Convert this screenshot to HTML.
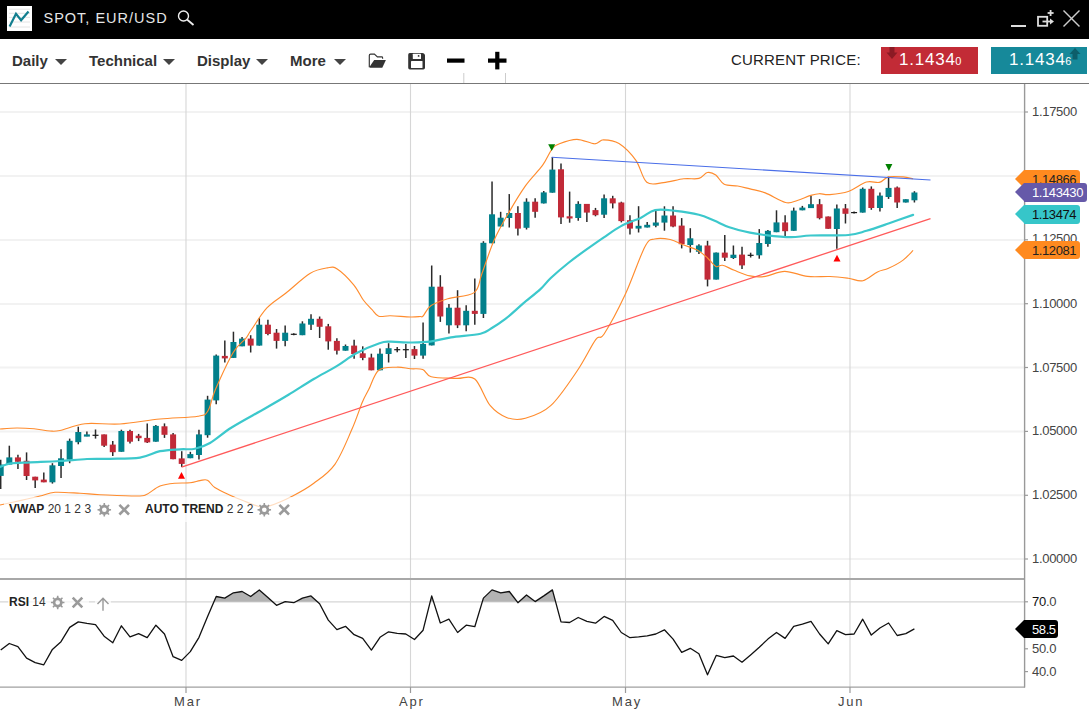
<!DOCTYPE html>
<html><head><meta charset="utf-8">
<style>
*{margin:0;padding:0;box-sizing:border-box}
html,body{width:1089px;height:712px;overflow:hidden;background:#fff;font-family:"Liberation Sans",sans-serif}
.abs{position:absolute}
#hdr{position:absolute;left:0;top:0;width:1089px;height:39px;background:#000}
#logo{position:absolute;left:7px;top:6px;width:25px;height:25px;background:#fff}
#title{position:absolute;left:43.5px;top:10px;color:#e6e6e6;font-size:14.5px;letter-spacing:1.0px;white-space:nowrap}
.menu{position:absolute;top:52px;font-size:15px;font-weight:bold;color:#333;white-space:nowrap}
.tri{position:absolute;top:59px;width:0;height:0;border-left:6px solid transparent;border-right:6px solid transparent;border-top:6.5px solid #444}
#sep{position:absolute;left:0;top:83px;width:1089px;height:1px;background:#777}
svg#chart{position:absolute;left:0;top:0}
.ax{position:absolute;left:1032px;font-size:13px;color:#444;letter-spacing:-0.3px;white-space:nowrap;line-height:16px}
.rs{letter-spacing:-0.3px}
.ax b{font-weight:normal;color:#111}
.tag{position:absolute;left:1024px;border-radius:0 3px 3px 0;font-size:13px;line-height:19px;padding-left:8px;letter-spacing:-0.4px;white-space:nowrap}
.tag i{position:absolute;left:-9px;top:0;width:0;height:0;border-style:solid;border-color:transparent;border-right-width:9px;border-left-width:0}
.lbl{position:absolute;font-size:12px;color:#333;white-space:nowrap;background:rgba(255,255,255,0.7);line-height:25px;height:25px}
.lbl b{color:#222}
.mon{position:absolute;top:694px;font-size:13px;letter-spacing:1.8px;color:#444;white-space:nowrap}
.price{position:absolute;top:47px;height:27px;color:#fff;font-size:17px;line-height:26px;letter-spacing:0.8px;white-space:nowrap}
</style></head><body>
<div id="hdr">
 <div id="logo"><svg width="25" height="25" viewBox="0 0 25 25">
  <g stroke="#ddd" stroke-width="0.8"><line x1="2" y1="3.2" x2="23" y2="3.2"/><line x1="2" y1="7.3" x2="23" y2="7.3"/><line x1="2" y1="11.4" x2="23" y2="11.4"/><line x1="2" y1="16" x2="23" y2="16"/><line x1="2" y1="21" x2="23" y2="21"/></g>
  <polyline points="2.6,20.6 9,7.8 14.1,14.2 21.5,5.5" fill="none" stroke="#137f8f" stroke-width="2.2"/>
 </svg></div>
 <div id="title">SPOT, EUR/USD</div>
 <svg class="abs" style="left:176px;top:9px" width="20" height="18" viewBox="0 0 20 18"><circle cx="7.5" cy="7" r="5" fill="none" stroke="#eee" stroke-width="1.4"/><line x1="11" y1="10.5" x2="17.5" y2="16" stroke="#eee" stroke-width="1.8"/></svg>
 <svg class="abs" style="left:1008px;top:8px" width="81" height="22" viewBox="0 0 81 22">
  <rect x="3" y="17" width="15" height="2" fill="#ddd"/>
  <rect x="30" y="8.8" width="9.2" height="9" fill="none" stroke="#ddd" stroke-width="1.8"/>
  <line x1="34.5" y1="13.5" x2="43" y2="13.5" stroke="#ddd" stroke-width="1.8"/><polygon points="42,10.5 46,13.5 42,16.5" fill="#ddd"/>
  <line x1="42.6" y1="2" x2="42.6" y2="8" stroke="#ddd" stroke-width="1.8"/><line x1="39.6" y1="5" x2="45.6" y2="5" stroke="#ddd" stroke-width="1.8"/>
  <line x1="55.5" y1="2.5" x2="71.5" y2="18.5" stroke="#ccc" stroke-width="1.5"/><line x1="71.5" y1="2.5" x2="55.5" y2="18.5" stroke="#ccc" stroke-width="1.5"/>
 </svg>
</div>
<div class="menu" style="left:12px">Daily</div><div class="tri" style="left:54.5px"></div>
<div class="menu" style="left:89px">Technical</div><div class="tri" style="left:162.5px"></div>
<div class="menu" style="left:197px">Display</div><div class="tri" style="left:255.5px"></div>
<div class="menu" style="left:290px">More</div><div class="tri" style="left:333.5px"></div>
<svg class="abs" style="left:366px;top:50px" width="150" height="36" viewBox="0 0 150 36">
 <path d="M3.3,17.2 V5.4 Q3.3,4.1 4.6,4.1 H8.4 L11.4,6.9 H15.7 Q16.6,6.9 16.6,7.8 V8.8" fill="none" stroke="#333" stroke-width="1.15"/>
 <path d="M8.2,10.1 H19.9 L16.3,17.7 H4.2 Q3.3,17.7 3.6,16.8 Z" fill="#333"/>
 <path d="M43.7,3 H56.5 Q57.3,3 57.9,3.6 L58.4,4.1 Q59,4.7 59,5.5 V17.8 Q59,19.5 57.3,19.5 H43.9 Q42.2,19.5 42.2,17.8 V4.7 Q42.2,3 43.7,3 Z" fill="#333"/>
 <rect x="46.8" y="3.8" width="8.2" height="5.1" rx="0.5" fill="#fff"/><circle cx="52.6" cy="5.9" r="0.9" fill="#333"/>
 <rect x="45" y="11" width="11.5" height="7" rx="0.6" fill="#fff"/>
 <rect x="81" y="8.5" width="17.5" height="4.2" fill="#000"/>
 <rect x="122" y="8.5" width="18.5" height="4.2" fill="#000"/><rect x="129.2" y="1.8" width="4.2" height="17.6" fill="#000"/>
 <line x1="97.8" y1="23" x2="97.8" y2="33" stroke="#ccc" stroke-width="1"/>
 <line x1="139.5" y1="23" x2="139.5" y2="33" stroke="#ccc" stroke-width="1"/>
</svg>
<div class="abs" style="left:731px;top:51.3px;font-size:15px;color:#222;letter-spacing:0.18px;white-space:nowrap">CURRENT PRICE:</div>
<div class="price" style="left:881px;width:97px;background:#c22b36;padding-left:18px">1.1434<span style="font-size:11px;letter-spacing:0;margin-left:-0.5px">0</span></div>
<svg class="abs" style="left:886px;top:47px" width="14" height="14"><rect x="3.5" y="0" width="5" height="6" fill="#8b1a24"/><polygon points="0.5,5.5 11.5,5.5 6,12" fill="#8b1a24"/></svg>
<div class="price" style="left:991px;width:96px;background:#16899a;padding-left:18px">1.1434<span style="font-size:11px;letter-spacing:0;margin-left:-0.5px">6</span></div>
<svg class="abs" style="left:1069px;top:48px" width="14" height="14"><polygon points="0.5,6 11.5,6 6,0" fill="#0d5e6a"/><rect x="3.5" y="5.5" width="5" height="6" fill="#0d5e6a"/></svg>
<div id="sep"></div>
<svg id="chart" width="1089" height="712" viewBox="0 0 1089 712">
<line x1="0" y1="112" x2="1024" y2="112" stroke="#f2f2f2" stroke-width="2"/>
<line x1="0" y1="176" x2="1024" y2="176" stroke="#f2f2f2" stroke-width="2"/>
<line x1="0" y1="240" x2="1024" y2="240" stroke="#f2f2f2" stroke-width="2"/>
<line x1="0" y1="304" x2="1024" y2="304" stroke="#f2f2f2" stroke-width="2"/>
<line x1="0" y1="367.5" x2="1024" y2="367.5" stroke="#f2f2f2" stroke-width="2"/>
<line x1="0" y1="431.4" x2="1024" y2="431.4" stroke="#f2f2f2" stroke-width="2"/>
<line x1="0" y1="495.3" x2="1024" y2="495.3" stroke="#f2f2f2" stroke-width="2"/>
<line x1="0" y1="559" x2="1024" y2="559" stroke="#f2f2f2" stroke-width="2"/>
<line x1="186.0" y1="84" x2="186.0" y2="687" stroke="#d6d6d6" stroke-width="1.1"/>
<line x1="410.5" y1="84" x2="410.5" y2="687" stroke="#d6d6d6" stroke-width="1.1"/>
<line x1="625.5" y1="84" x2="625.5" y2="687" stroke="#d6d6d6" stroke-width="1.1"/>
<line x1="850.0" y1="84" x2="850.0" y2="687" stroke="#d6d6d6" stroke-width="1.1"/>
<line x1="0" y1="601.8" x2="1024" y2="601.8" stroke="#d6d6d6" stroke-width="1.3"/>
<polygon points="213.9,601.8 216.2,596.5 224.8,598.1 233.4,592.8 242.1,591.5 250.7,596.5 259.3,589.9 267.9,597.6 272.6,601.8" fill="#b3b3b3"/>
<polygon points="284.7,601.8 285.2,601.6 286.7,601.8" fill="#b3b3b3"/>
<polygon points="295.5,601.8 302.4,598.1 311.0,595.9 317.5,601.8" fill="#b3b3b3"/>
<polygon points="430.2,601.8 431.7,595.9 433.6,601.8" fill="#b3b3b3"/>
<polygon points="482.3,601.8 483.4,598.1 492.0,589.9 500.7,592.8 509.3,591.5 517.2,601.8" fill="#b3b3b3"/>
<polygon points="518.9,601.8 526.5,595.0 535.1,601.6 543.8,595.9 552.4,589.9 555.6,601.8" fill="#b3b3b3"/>
<line x1="0.70" y1="459.7" x2="0.70" y2="489.0" stroke="#2a2a2a" stroke-width="1.5"/>
<rect x="-2.30" y="464.6" width="6" height="11.3" fill="#02808b"/>
<line x1="9.32" y1="445.7" x2="9.32" y2="464.6" stroke="#2a2a2a" stroke-width="1.5"/>
<rect x="6.32" y="457.4" width="6" height="7.2" fill="#02808b"/>
<line x1="17.94" y1="454.8" x2="17.94" y2="469.0" stroke="#2a2a2a" stroke-width="1.5"/>
<rect x="14.94" y="457.4" width="6" height="4.4" fill="#c12a38"/>
<line x1="26.56" y1="452.4" x2="26.56" y2="480.0" stroke="#2a2a2a" stroke-width="1.5"/>
<rect x="23.56" y="460.8" width="6" height="15.2" fill="#c12a38"/>
<line x1="35.18" y1="476.7" x2="35.18" y2="488.0" stroke="#2a2a2a" stroke-width="1.5"/>
<rect x="32.18" y="476.7" width="6" height="3.7" fill="#c12a38"/>
<line x1="43.80" y1="472.5" x2="43.80" y2="482.3" stroke="#2a2a2a" stroke-width="1.5"/>
<rect x="40.80" y="479.6" width="6" height="2.7" fill="#c12a38"/>
<line x1="52.42" y1="463.2" x2="52.42" y2="483.6" stroke="#2a2a2a" stroke-width="1.5"/>
<rect x="49.42" y="465.3" width="6" height="17.0" fill="#02808b"/>
<line x1="61.04" y1="449.2" x2="61.04" y2="478.0" stroke="#2a2a2a" stroke-width="1.5"/>
<rect x="58.04" y="458.3" width="6" height="7.7" fill="#02808b"/>
<line x1="69.66" y1="438.6" x2="69.66" y2="463.2" stroke="#2a2a2a" stroke-width="1.5"/>
<rect x="66.66" y="440.8" width="6" height="18.9" fill="#02808b"/>
<line x1="78.28" y1="426.7" x2="78.28" y2="444.3" stroke="#2a2a2a" stroke-width="1.5"/>
<rect x="75.28" y="432.0" width="6" height="10.2" fill="#02808b"/>
<line x1="86.90" y1="431.6" x2="86.90" y2="436.2" stroke="#2a2a2a" stroke-width="1.5"/>
<rect x="83.90" y="434.4" width="6" height="2.2" fill="#02808b"/>
<line x1="95.52" y1="429.5" x2="95.52" y2="438.6" stroke="#2a2a2a" stroke-width="1.5"/>
<line x1="92.52" y1="435.3" x2="98.52" y2="435.3" stroke="#1a1a1a" stroke-width="1.2"/>
<line x1="104.14" y1="434.4" x2="104.14" y2="447.0" stroke="#2a2a2a" stroke-width="1.5"/>
<rect x="101.14" y="434.4" width="6" height="11.3" fill="#c12a38"/>
<line x1="112.76" y1="441.0" x2="112.76" y2="456.0" stroke="#2a2a2a" stroke-width="1.5"/>
<rect x="109.76" y="444.6" width="6" height="7.6" fill="#c12a38"/>
<line x1="121.38" y1="429.7" x2="121.38" y2="451.8" stroke="#2a2a2a" stroke-width="1.5"/>
<rect x="118.38" y="431.0" width="6" height="20.8" fill="#02808b"/>
<line x1="130.00" y1="429.7" x2="130.00" y2="443.6" stroke="#2a2a2a" stroke-width="1.5"/>
<rect x="127.00" y="431.0" width="6" height="10.7" fill="#c12a38"/>
<line x1="138.62" y1="433.9" x2="138.62" y2="441.1" stroke="#2a2a2a" stroke-width="1.5"/>
<rect x="135.62" y="435.7" width="6" height="2.5" fill="#c12a38"/>
<line x1="147.24" y1="423.4" x2="147.24" y2="443.0" stroke="#2a2a2a" stroke-width="1.5"/>
<rect x="144.24" y="437.9" width="6" height="4.5" fill="#c12a38"/>
<line x1="155.86" y1="425.0" x2="155.86" y2="441.7" stroke="#2a2a2a" stroke-width="1.5"/>
<rect x="152.86" y="425.9" width="6" height="15.8" fill="#02808b"/>
<line x1="164.48" y1="423.4" x2="164.48" y2="437.9" stroke="#2a2a2a" stroke-width="1.5"/>
<rect x="161.48" y="426.3" width="6" height="8.5" fill="#c12a38"/>
<line x1="173.10" y1="432.9" x2="173.10" y2="459.2" stroke="#2a2a2a" stroke-width="1.5"/>
<rect x="170.10" y="434.4" width="6" height="24.8" fill="#c12a38"/>
<line x1="181.72" y1="451.2" x2="181.72" y2="467.0" stroke="#2a2a2a" stroke-width="1.5"/>
<rect x="178.72" y="458.4" width="6" height="5.5" fill="#c12a38"/>
<line x1="190.34" y1="451.8" x2="190.34" y2="458.2" stroke="#2a2a2a" stroke-width="1.5"/>
<rect x="187.34" y="454.1" width="6" height="4.1" fill="#02808b"/>
<line x1="198.96" y1="429.7" x2="198.96" y2="459.5" stroke="#2a2a2a" stroke-width="1.5"/>
<rect x="195.96" y="434.4" width="6" height="20.6" fill="#02808b"/>
<line x1="207.58" y1="395.8" x2="207.58" y2="437.7" stroke="#2a2a2a" stroke-width="1.5"/>
<rect x="204.58" y="399.6" width="6" height="35.6" fill="#02808b"/>
<line x1="216.20" y1="354.4" x2="216.20" y2="404.2" stroke="#2a2a2a" stroke-width="1.5"/>
<rect x="213.20" y="355.6" width="6" height="44.8" fill="#02808b"/>
<line x1="224.82" y1="340.5" x2="224.82" y2="362.5" stroke="#2a2a2a" stroke-width="1.5"/>
<rect x="221.82" y="355.9" width="6" height="2.5" fill="#c12a38"/>
<line x1="233.44" y1="331.7" x2="233.44" y2="357.9" stroke="#2a2a2a" stroke-width="1.5"/>
<rect x="230.44" y="342.0" width="6" height="15.9" fill="#02808b"/>
<line x1="242.06" y1="337.0" x2="242.06" y2="346.3" stroke="#2a2a2a" stroke-width="1.5"/>
<rect x="239.06" y="338.6" width="6" height="7.7" fill="#02808b"/>
<line x1="250.68" y1="335.2" x2="250.68" y2="352.5" stroke="#2a2a2a" stroke-width="1.5"/>
<rect x="247.68" y="338.6" width="6" height="7.0" fill="#c12a38"/>
<line x1="259.30" y1="318.2" x2="259.30" y2="345.6" stroke="#2a2a2a" stroke-width="1.5"/>
<rect x="256.30" y="324.7" width="6" height="20.9" fill="#02808b"/>
<line x1="267.92" y1="319.8" x2="267.92" y2="335.2" stroke="#2a2a2a" stroke-width="1.5"/>
<rect x="264.92" y="324.7" width="6" height="9.3" fill="#c12a38"/>
<line x1="276.54" y1="329.0" x2="276.54" y2="348.6" stroke="#2a2a2a" stroke-width="1.5"/>
<rect x="273.54" y="332.7" width="6" height="8.2" fill="#c12a38"/>
<line x1="285.16" y1="325.5" x2="285.16" y2="346.3" stroke="#2a2a2a" stroke-width="1.5"/>
<rect x="282.16" y="332.7" width="6" height="8.2" fill="#02808b"/>
<line x1="293.78" y1="333.2" x2="293.78" y2="335.2" stroke="#2a2a2a" stroke-width="1.5"/>
<line x1="290.78" y1="334.3" x2="296.78" y2="334.3" stroke="#1a1a1a" stroke-width="1.2"/>
<line x1="302.40" y1="321.3" x2="302.40" y2="335.2" stroke="#2a2a2a" stroke-width="1.5"/>
<rect x="299.40" y="323.5" width="6" height="11.7" fill="#02808b"/>
<line x1="311.02" y1="314.2" x2="311.02" y2="330.1" stroke="#2a2a2a" stroke-width="1.5"/>
<rect x="308.02" y="318.8" width="6" height="5.9" fill="#02808b"/>
<line x1="319.64" y1="316.5" x2="319.64" y2="338.0" stroke="#2a2a2a" stroke-width="1.5"/>
<rect x="316.64" y="318.8" width="6" height="8.0" fill="#c12a38"/>
<line x1="328.26" y1="323.9" x2="328.26" y2="349.7" stroke="#2a2a2a" stroke-width="1.5"/>
<rect x="325.26" y="326.3" width="6" height="15.1" fill="#c12a38"/>
<line x1="336.88" y1="338.3" x2="336.88" y2="354.4" stroke="#2a2a2a" stroke-width="1.5"/>
<rect x="333.88" y="340.9" width="6" height="9.8" fill="#c12a38"/>
<line x1="345.50" y1="344.5" x2="345.50" y2="350.7" stroke="#2a2a2a" stroke-width="1.5"/>
<rect x="342.50" y="346.0" width="6" height="4.7" fill="#02808b"/>
<line x1="354.12" y1="339.8" x2="354.12" y2="358.7" stroke="#2a2a2a" stroke-width="1.5"/>
<rect x="351.12" y="345.6" width="6" height="8.4" fill="#c12a38"/>
<line x1="362.74" y1="346.3" x2="362.74" y2="360.2" stroke="#2a2a2a" stroke-width="1.5"/>
<rect x="359.74" y="353.3" width="6" height="4.6" fill="#c12a38"/>
<line x1="371.36" y1="353.7" x2="371.36" y2="370.3" stroke="#2a2a2a" stroke-width="1.5"/>
<rect x="368.36" y="357.5" width="6" height="12.8" fill="#c12a38"/>
<line x1="379.98" y1="348.6" x2="379.98" y2="370.3" stroke="#2a2a2a" stroke-width="1.5"/>
<rect x="376.98" y="353.7" width="6" height="16.6" fill="#02808b"/>
<line x1="388.60" y1="343.2" x2="388.60" y2="362.5" stroke="#2a2a2a" stroke-width="1.5"/>
<rect x="385.60" y="348.2" width="6" height="5.8" fill="#02808b"/>
<line x1="397.22" y1="347.1" x2="397.22" y2="352.2" stroke="#2a2a2a" stroke-width="1.5"/>
<line x1="394.22" y1="349.7" x2="400.22" y2="349.7" stroke="#1a1a1a" stroke-width="1.2"/>
<line x1="405.84" y1="344.0" x2="405.84" y2="357.9" stroke="#2a2a2a" stroke-width="1.5"/>
<line x1="402.84" y1="349.7" x2="408.84" y2="349.7" stroke="#1a1a1a" stroke-width="1.2"/>
<line x1="414.46" y1="346.0" x2="414.46" y2="359.0" stroke="#2a2a2a" stroke-width="1.5"/>
<rect x="411.46" y="349.1" width="6" height="6.5" fill="#c12a38"/>
<line x1="423.08" y1="322.5" x2="423.08" y2="358.7" stroke="#2a2a2a" stroke-width="1.5"/>
<rect x="420.08" y="344.0" width="6" height="11.6" fill="#02808b"/>
<line x1="431.70" y1="265.5" x2="431.70" y2="345.4" stroke="#2a2a2a" stroke-width="1.5"/>
<rect x="428.70" y="286.7" width="6" height="58.7" fill="#02808b"/>
<line x1="440.32" y1="275.2" x2="440.32" y2="321.9" stroke="#2a2a2a" stroke-width="1.5"/>
<rect x="437.32" y="286.7" width="6" height="29.8" fill="#c12a38"/>
<line x1="448.94" y1="304.1" x2="448.94" y2="333.5" stroke="#2a2a2a" stroke-width="1.5"/>
<rect x="445.94" y="307.7" width="6" height="17.6" fill="#02808b"/>
<line x1="457.56" y1="290.2" x2="457.56" y2="328.1" stroke="#2a2a2a" stroke-width="1.5"/>
<rect x="454.56" y="307.7" width="6" height="17.6" fill="#c12a38"/>
<line x1="466.18" y1="305.2" x2="466.18" y2="331.2" stroke="#2a2a2a" stroke-width="1.5"/>
<rect x="463.18" y="310.8" width="6" height="14.5" fill="#02808b"/>
<line x1="474.80" y1="278.6" x2="474.80" y2="324.7" stroke="#2a2a2a" stroke-width="1.5"/>
<rect x="471.80" y="310.8" width="6" height="3.1" fill="#c12a38"/>
<line x1="483.42" y1="241.2" x2="483.42" y2="318.0" stroke="#2a2a2a" stroke-width="1.5"/>
<rect x="480.42" y="242.8" width="6" height="71.1" fill="#02808b"/>
<line x1="492.04" y1="181.4" x2="492.04" y2="243.3" stroke="#2a2a2a" stroke-width="1.5"/>
<rect x="489.04" y="214.3" width="6" height="29.0" fill="#02808b"/>
<line x1="500.66" y1="211.8" x2="500.66" y2="226.5" stroke="#2a2a2a" stroke-width="1.5"/>
<rect x="497.66" y="217.7" width="6" height="8.8" fill="#02808b"/>
<line x1="509.28" y1="194.1" x2="509.28" y2="227.5" stroke="#2a2a2a" stroke-width="1.5"/>
<rect x="506.28" y="213.0" width="6" height="5.0" fill="#02808b"/>
<line x1="517.90" y1="206.2" x2="517.90" y2="235.4" stroke="#2a2a2a" stroke-width="1.5"/>
<rect x="514.90" y="213.0" width="6" height="15.6" fill="#c12a38"/>
<line x1="526.52" y1="198.3" x2="526.52" y2="229.5" stroke="#2a2a2a" stroke-width="1.5"/>
<rect x="523.52" y="201.7" width="6" height="26.1" fill="#02808b"/>
<line x1="535.14" y1="198.3" x2="535.14" y2="217.7" stroke="#2a2a2a" stroke-width="1.5"/>
<rect x="532.14" y="201.7" width="6" height="10.1" fill="#c12a38"/>
<line x1="543.76" y1="191.0" x2="543.76" y2="203.4" stroke="#2a2a2a" stroke-width="1.5"/>
<rect x="540.76" y="192.4" width="6" height="11.0" fill="#02808b"/>
<line x1="552.38" y1="157.0" x2="552.38" y2="192.7" stroke="#2a2a2a" stroke-width="1.5"/>
<rect x="549.38" y="169.6" width="6" height="23.1" fill="#02808b"/>
<line x1="561.00" y1="163.4" x2="561.00" y2="224.0" stroke="#2a2a2a" stroke-width="1.5"/>
<rect x="558.00" y="169.3" width="6" height="48.1" fill="#c12a38"/>
<line x1="569.62" y1="191.6" x2="569.62" y2="222.7" stroke="#2a2a2a" stroke-width="1.5"/>
<rect x="566.62" y="216.3" width="6" height="2.2" fill="#c12a38"/>
<line x1="578.24" y1="201.2" x2="578.24" y2="220.7" stroke="#2a2a2a" stroke-width="1.5"/>
<rect x="575.24" y="203.9" width="6" height="14.1" fill="#02808b"/>
<line x1="586.86" y1="203.9" x2="586.86" y2="221.9" stroke="#2a2a2a" stroke-width="1.5"/>
<rect x="583.86" y="203.9" width="6" height="8.7" fill="#c12a38"/>
<line x1="595.48" y1="207.9" x2="595.48" y2="216.3" stroke="#2a2a2a" stroke-width="1.5"/>
<rect x="592.48" y="210.1" width="6" height="5.1" fill="#c12a38"/>
<line x1="604.10" y1="194.4" x2="604.10" y2="218.0" stroke="#2a2a2a" stroke-width="1.5"/>
<rect x="601.10" y="198.3" width="6" height="16.4" fill="#02808b"/>
<line x1="612.72" y1="195.8" x2="612.72" y2="208.4" stroke="#2a2a2a" stroke-width="1.5"/>
<rect x="609.72" y="198.3" width="6" height="5.1" fill="#c12a38"/>
<line x1="621.34" y1="201.7" x2="621.34" y2="222.4" stroke="#2a2a2a" stroke-width="1.5"/>
<rect x="618.34" y="202.5" width="6" height="18.6" fill="#c12a38"/>
<line x1="629.96" y1="215.2" x2="629.96" y2="234.6" stroke="#2a2a2a" stroke-width="1.5"/>
<rect x="626.96" y="220.2" width="6" height="8.4" fill="#c12a38"/>
<line x1="638.58" y1="206.2" x2="638.58" y2="232.5" stroke="#2a2a2a" stroke-width="1.5"/>
<rect x="635.58" y="225.8" width="6" height="2.8" fill="#02808b"/>
<line x1="647.20" y1="221.9" x2="647.20" y2="227.5" stroke="#2a2a2a" stroke-width="1.5"/>
<rect x="644.20" y="224.8" width="6" height="2.7" fill="#02808b"/>
<line x1="655.82" y1="210.9" x2="655.82" y2="227.2" stroke="#2a2a2a" stroke-width="1.5"/>
<rect x="652.82" y="222.5" width="6" height="3.2" fill="#02808b"/>
<line x1="664.44" y1="206.3" x2="664.44" y2="230.7" stroke="#2a2a2a" stroke-width="1.5"/>
<rect x="661.44" y="215.5" width="6" height="7.1" fill="#02808b"/>
<line x1="673.06" y1="206.3" x2="673.06" y2="227.3" stroke="#2a2a2a" stroke-width="1.5"/>
<rect x="670.06" y="215.5" width="6" height="11.0" fill="#c12a38"/>
<line x1="681.68" y1="218.1" x2="681.68" y2="248.4" stroke="#2a2a2a" stroke-width="1.5"/>
<rect x="678.68" y="225.6" width="6" height="18.6" fill="#c12a38"/>
<line x1="690.30" y1="228.2" x2="690.30" y2="252.6" stroke="#2a2a2a" stroke-width="1.5"/>
<rect x="687.30" y="238.3" width="6" height="6.7" fill="#02808b"/>
<line x1="698.92" y1="244.2" x2="698.92" y2="254.0" stroke="#2a2a2a" stroke-width="1.5"/>
<rect x="695.92" y="245.5" width="6" height="6.3" fill="#02808b"/>
<line x1="707.54" y1="240.8" x2="707.54" y2="286.4" stroke="#2a2a2a" stroke-width="1.5"/>
<rect x="704.54" y="245.5" width="6" height="34.1" fill="#c12a38"/>
<line x1="716.16" y1="252.6" x2="716.16" y2="279.6" stroke="#2a2a2a" stroke-width="1.5"/>
<rect x="713.16" y="252.6" width="6" height="27.0" fill="#02808b"/>
<line x1="724.78" y1="234.9" x2="724.78" y2="261.1" stroke="#2a2a2a" stroke-width="1.5"/>
<rect x="721.78" y="252.6" width="6" height="5.1" fill="#c12a38"/>
<line x1="733.40" y1="245.5" x2="733.40" y2="259.0" stroke="#2a2a2a" stroke-width="1.5"/>
<rect x="730.40" y="254.7" width="6" height="3.3" fill="#02808b"/>
<line x1="742.02" y1="246.8" x2="742.02" y2="269.0" stroke="#2a2a2a" stroke-width="1.5"/>
<rect x="739.02" y="254.6" width="6" height="10.8" fill="#c12a38"/>
<line x1="750.64" y1="252.7" x2="750.64" y2="257.5" stroke="#2a2a2a" stroke-width="1.5"/>
<line x1="747.64" y1="255.3" x2="753.64" y2="255.3" stroke="#1a1a1a" stroke-width="1.2"/>
<line x1="759.26" y1="229.1" x2="759.26" y2="258.7" stroke="#2a2a2a" stroke-width="1.5"/>
<rect x="756.26" y="243.0" width="6" height="12.3" fill="#02808b"/>
<line x1="767.88" y1="230.0" x2="767.88" y2="246.8" stroke="#2a2a2a" stroke-width="1.5"/>
<rect x="764.88" y="230.8" width="6" height="13.2" fill="#02808b"/>
<line x1="776.50" y1="210.3" x2="776.50" y2="232.2" stroke="#2a2a2a" stroke-width="1.5"/>
<rect x="773.50" y="222.4" width="6" height="9.8" fill="#02808b"/>
<line x1="785.12" y1="215.3" x2="785.12" y2="235.9" stroke="#2a2a2a" stroke-width="1.5"/>
<rect x="782.12" y="222.4" width="6" height="8.8" fill="#c12a38"/>
<line x1="793.74" y1="207.6" x2="793.74" y2="230.8" stroke="#2a2a2a" stroke-width="1.5"/>
<rect x="790.74" y="210.6" width="6" height="20.2" fill="#02808b"/>
<line x1="802.36" y1="205.9" x2="802.36" y2="210.3" stroke="#2a2a2a" stroke-width="1.5"/>
<rect x="799.36" y="207.6" width="6" height="2.7" fill="#02808b"/>
<line x1="810.98" y1="195.8" x2="810.98" y2="208.1" stroke="#2a2a2a" stroke-width="1.5"/>
<rect x="807.98" y="204.2" width="6" height="3.9" fill="#02808b"/>
<line x1="819.60" y1="199.1" x2="819.60" y2="219.4" stroke="#2a2a2a" stroke-width="1.5"/>
<rect x="816.60" y="204.2" width="6" height="14.0" fill="#c12a38"/>
<line x1="828.22" y1="216.5" x2="828.22" y2="228.8" stroke="#2a2a2a" stroke-width="1.5"/>
<rect x="825.22" y="216.5" width="6" height="12.3" fill="#c12a38"/>
<line x1="836.84" y1="204.5" x2="836.84" y2="248.8" stroke="#2a2a2a" stroke-width="1.5"/>
<rect x="833.84" y="208.5" width="6" height="20.5" fill="#02808b"/>
<line x1="845.46" y1="204.0" x2="845.46" y2="223.5" stroke="#2a2a2a" stroke-width="1.5"/>
<rect x="842.46" y="208.4" width="6" height="5.4" fill="#c12a38"/>
<line x1="854.08" y1="211.6" x2="854.08" y2="213.6" stroke="#2a2a2a" stroke-width="1.5"/>
<line x1="851.08" y1="212.6" x2="857.08" y2="212.6" stroke="#1a1a1a" stroke-width="1.2"/>
<line x1="862.70" y1="187.5" x2="862.70" y2="212.6" stroke="#2a2a2a" stroke-width="1.5"/>
<rect x="859.70" y="188.8" width="6" height="23.8" fill="#02808b"/>
<line x1="871.32" y1="186.4" x2="871.32" y2="209.8" stroke="#2a2a2a" stroke-width="1.5"/>
<rect x="868.32" y="188.8" width="6" height="19.2" fill="#c12a38"/>
<line x1="879.94" y1="192.5" x2="879.94" y2="211.6" stroke="#2a2a2a" stroke-width="1.5"/>
<rect x="876.94" y="195.6" width="6" height="12.4" fill="#02808b"/>
<line x1="888.56" y1="176.6" x2="888.56" y2="198.9" stroke="#2a2a2a" stroke-width="1.5"/>
<rect x="885.56" y="187.9" width="6" height="9.1" fill="#02808b"/>
<line x1="897.18" y1="186.4" x2="897.18" y2="208.0" stroke="#2a2a2a" stroke-width="1.5"/>
<rect x="894.18" y="187.5" width="6" height="15.0" fill="#c12a38"/>
<line x1="905.80" y1="199.2" x2="905.80" y2="202.5" stroke="#2a2a2a" stroke-width="1.5"/>
<rect x="902.80" y="199.2" width="6" height="3.3" fill="#02808b"/>
<line x1="914.42" y1="191.2" x2="914.42" y2="202.5" stroke="#2a2a2a" stroke-width="1.5"/>
<rect x="911.42" y="192.5" width="6" height="7.8" fill="#02808b"/>
<path d="M0.0,429.0 C2.8,428.8 11.3,428.0 17.0,428.0 C22.7,428.0 28.5,428.3 34.0,428.8 C39.5,429.3 45.7,430.7 50.0,431.0 C54.3,431.3 54.2,431.7 60.0,430.5 C65.8,429.3 75.0,424.8 85.0,423.7 C95.0,422.6 107.5,424.8 120.0,424.0 C132.5,423.2 147.0,420.3 160.0,419.0 C173.0,417.7 190.0,417.6 198.0,416.2 C206.0,414.8 205.1,415.2 208.0,410.8 C210.9,406.4 211.2,399.3 215.4,389.6 C219.6,379.9 228.2,361.0 233.2,352.5 C238.2,344.0 242.6,342.4 245.6,338.6 C248.6,334.9 247.6,335.1 251.2,330.0 C254.8,324.9 261.1,314.1 266.9,307.9 C272.7,301.7 278.8,298.7 286.0,293.0 C293.2,287.3 303.0,277.7 309.9,273.5 C316.8,269.3 322.8,268.6 327.3,267.9 C331.9,267.1 332.8,266.2 337.2,269.0 C341.6,271.8 349.3,279.6 353.7,284.8 C358.1,290.0 360.3,295.9 363.3,300.0 C366.3,304.1 369.2,306.6 371.8,309.3 C374.4,312.0 375.6,315.1 378.7,316.2 C381.8,317.3 385.0,315.7 390.3,315.8 C395.6,315.9 405.4,316.9 410.4,317.0 C415.3,317.1 417.9,316.7 420.0,316.5 C422.1,316.3 421.3,317.8 423.1,316.0 C424.9,314.2 426.7,308.6 430.8,305.7 C434.9,302.8 440.6,300.9 447.8,298.7 C455.0,296.5 468.4,296.7 474.1,292.6 C479.8,288.5 478.5,282.8 481.8,274.0 C485.1,265.2 489.7,250.2 494.2,240.0 C498.7,229.8 503.6,221.7 508.8,212.6 C514.0,203.5 520.0,193.5 525.6,185.6 C531.2,177.7 538.1,171.4 542.5,165.4 C546.9,159.4 549.0,153.0 551.8,149.4 C554.6,145.8 555.2,145.5 559.4,143.8 C563.6,142.1 571.0,139.3 576.9,139.3 C582.8,139.3 590.2,143.7 594.6,143.8 C599.0,143.9 599.4,139.9 603.5,139.8 C607.6,139.8 613.6,140.1 619.0,143.5 C624.4,146.9 631.3,153.9 635.9,160.4 C640.5,166.9 642.2,178.6 646.8,182.3 C651.4,186.0 657.4,183.2 663.5,182.6 C669.6,182.0 677.8,179.5 683.7,178.8 C689.6,178.1 695.0,179.5 698.9,178.4 C702.8,177.3 704.5,173.1 707.3,172.5 C710.1,171.9 713.0,173.0 715.8,175.0 C718.6,177.0 720.6,182.5 724.2,184.3 C727.9,186.1 733.4,185.2 737.7,186.0 C742.0,186.8 745.4,187.8 750.0,188.9 C754.6,190.1 759.4,190.6 765.3,192.9 C771.2,195.2 780.2,201.2 785.5,202.5 C790.8,203.8 793.1,201.7 797.3,200.5 C801.5,199.3 807.1,196.5 810.8,195.4 C814.5,194.3 816.2,193.8 819.3,193.7 C822.4,193.6 824.6,195.0 829.4,194.6 C834.2,194.2 842.1,193.6 848.3,191.5 C854.5,189.4 861.3,183.5 866.5,182.0 C871.7,180.5 875.6,183.2 879.3,182.4 C883.0,181.6 884.5,177.8 888.5,176.9 C892.5,176.0 899.0,176.6 903.1,176.9 C907.2,177.2 911.4,178.5 913.1,178.8" fill="none" stroke="#ff8c2e" stroke-width="1.15"/>
<path d="M0.0,505.0 C3.3,504.3 13.3,502.1 20.0,500.6 C26.7,499.1 34.2,497.4 40.0,496.0 C45.8,494.6 48.3,492.8 55.0,492.3 C61.7,491.9 72.5,492.9 80.0,493.3 C87.5,493.7 90.5,494.2 100.0,494.7 C109.5,495.1 129.2,496.1 137.0,496.0 C144.8,495.9 143.2,495.9 147.0,494.2 C150.8,492.5 155.3,487.8 160.0,486.0 C164.7,484.2 170.0,483.7 175.0,483.2 C180.0,482.7 185.8,483.2 190.0,482.8 C194.2,482.4 197.1,481.0 200.0,480.6 C202.9,480.2 204.9,479.1 207.4,480.2 C209.9,481.3 211.1,485.1 214.8,487.5 C218.5,489.9 224.9,492.8 229.5,494.9 C234.1,497.0 237.3,498.3 242.2,500.2 C247.1,502.1 254.4,505.6 259.0,506.5 C263.6,507.4 264.0,507.6 269.6,505.9 C275.2,504.1 285.3,499.8 292.7,496.0 C300.1,492.2 306.8,488.6 313.8,483.3 C320.8,478.0 328.6,473.2 334.9,464.3 C341.2,455.4 347.2,440.0 351.8,429.6 C356.4,419.2 359.5,408.9 362.3,402.2 C365.1,395.5 366.0,394.9 368.7,389.6 C371.4,384.3 374.1,374.0 378.7,370.3 C383.3,366.6 391.2,367.5 396.5,367.2 C401.8,366.9 406.0,368.3 410.4,368.7 C414.8,369.1 419.2,368.2 422.7,369.5 C426.2,370.8 425.6,375.2 431.2,376.7 C436.8,378.2 449.2,378.0 456.5,378.4 C463.8,378.8 469.2,374.4 474.8,379.0 C480.4,383.6 484.9,399.2 490.3,405.7 C495.7,412.1 501.2,415.6 507.1,417.7 C513.0,419.8 518.1,420.3 525.4,418.3 C532.7,416.3 542.0,413.7 550.7,405.7 C559.4,397.7 569.9,381.5 577.4,370.5 C584.9,359.5 591.2,345.7 595.7,339.6 C600.2,333.5 599.2,341.5 604.1,334.0 C609.0,326.5 618.4,309.1 625.2,294.6 C632.0,280.1 639.9,256.2 644.8,246.9 C649.7,237.6 650.5,240.2 654.7,239.0 C658.9,237.8 665.4,238.5 670.2,239.5 C675.0,240.5 679.2,243.2 683.7,245.0 C688.2,246.8 693.3,248.0 697.2,250.1 C701.1,252.2 704.2,255.0 707.3,257.7 C710.4,260.4 713.3,265.2 715.8,266.5 C718.3,267.8 719.4,264.7 722.5,265.3 C725.6,265.9 729.7,268.5 734.3,270.3 C738.9,272.1 744.8,274.9 750.0,275.9 C755.2,276.9 759.5,277.2 765.3,276.4 C771.1,275.6 777.7,271.3 784.7,271.3 C791.7,271.3 800.0,275.5 807.5,276.4 C815.0,277.3 823.2,276.2 830.0,276.5 C836.8,276.8 842.8,277.6 848.3,278.3 C853.8,279.0 858.0,281.8 862.9,280.7 C867.8,279.6 873.2,274.0 877.5,271.9 C881.8,269.8 884.2,270.3 888.5,268.3 C892.8,266.3 899.0,263.1 903.1,260.1 C907.2,257.1 911.4,252.0 913.1,250.4" fill="none" stroke="#ff8c2e" stroke-width="1.15"/>
<path d="M0.0,467.0 C0.8,466.7 3.2,465.6 5.0,465.0 C6.8,464.4 6.8,463.8 11.0,463.3 C15.2,462.9 21.8,462.7 30.0,462.3 C38.2,461.9 50.5,461.6 60.0,461.0 C69.5,460.4 78.7,459.4 87.0,459.0 C95.3,458.6 101.2,459.0 110.0,458.8 C118.8,458.6 131.7,458.9 140.0,457.6 C148.3,456.3 153.3,452.6 160.0,451.2 C166.7,449.8 174.2,449.7 180.0,449.3 C185.8,448.9 190.0,449.8 195.0,448.7 C200.0,447.6 203.9,446.5 210.0,443.0 C216.1,439.5 222.7,433.1 231.6,427.5 C240.5,421.9 253.7,414.9 263.2,409.5 C272.7,404.1 280.1,399.9 288.5,394.8 C296.9,389.7 305.8,383.7 313.8,379.0 C321.8,374.3 329.2,370.7 336.3,366.4 C343.4,362.1 349.1,357.2 356.3,353.3 C363.5,349.4 373.8,345.1 379.5,343.2 C385.2,341.3 385.2,341.8 390.3,341.7 C395.4,341.6 403.8,342.5 410.4,342.5 C417.0,342.5 423.2,342.6 430.0,341.7 C436.8,340.8 442.5,338.7 450.9,337.4 C459.3,336.1 473.8,335.3 480.5,333.8 C487.2,332.3 487.0,330.9 491.1,328.5 C495.2,326.1 499.8,323.3 505.1,319.2 C510.4,315.1 516.9,308.9 522.7,303.9 C528.6,298.9 535.5,293.7 540.2,289.4 C544.9,285.1 546.1,282.4 550.8,278.0 C555.5,273.6 562.4,267.7 568.3,263.0 C574.1,258.3 580.0,254.1 585.9,249.9 C591.8,245.7 597.6,241.6 603.5,237.6 C609.4,233.6 614.8,229.4 621.0,226.1 C627.2,222.8 635.3,220.4 641.0,217.7 C646.7,215.0 649.4,211.2 655.1,210.1 C660.8,208.9 668.0,210.0 675.3,210.8 C682.6,211.6 692.4,213.1 698.9,214.7 C705.4,216.3 709.0,218.5 714.1,220.6 C719.2,222.7 723.3,225.3 729.3,227.3 C735.3,229.3 744.0,231.4 750.0,232.7 C756.0,234.0 758.5,234.2 765.3,235.0 C772.1,235.8 783.0,237.1 790.6,237.2 C798.2,237.3 801.2,235.9 810.8,235.5 C820.4,235.1 839.0,235.8 848.3,235.0 C857.6,234.2 859.8,232.7 866.5,230.8 C873.2,228.9 880.7,226.2 888.5,223.5 C896.3,220.8 909.0,216.3 913.1,214.9" fill="none" stroke="#3cc8cc" stroke-width="2.2" stroke-linecap="round"/>
<line x1="181.5" y1="467.2" x2="930.5" y2="218.6" stroke="#ff5a5a" stroke-width="1.3"/>
<line x1="551.8" y1="157.3" x2="930.5" y2="180" stroke="#4a6ee8" stroke-width="1.1"/>
<polygon points="178,478.8 185,478.8 181.5,472" fill="#ff0000"/>
<polygon points="833.5,261.5 840.5,261.5 837,254.7" fill="#ff0000"/>
<polygon points="548.2,144.2 555.2,144.2 551.7,151" fill="#008000"/>
<polygon points="885.4,164.1 892.4,164.1 888.9,171" fill="#008000"/>
<polyline points="0.7,650.1 9.3,643.5 17.9,646.6 26.6,658.2 35.2,662.6 43.8,664.8 52.4,649.4 61.0,641.7 69.7,627.4 78.3,621.9 86.9,623.4 95.5,624.7 104.1,636.2 112.8,642.8 121.4,625.8 130.0,636.9 138.6,633.6 147.2,637.7 155.9,625.2 164.5,634.0 173.1,656.7 181.7,660.4 190.3,651.6 199.0,637.3 207.6,616.4 216.2,596.5 224.8,598.1 233.4,592.8 242.1,591.5 250.7,596.5 259.3,589.9 267.9,597.6 276.5,605.3 285.2,601.6 293.8,602.7 302.4,598.1 311.0,595.9 319.6,603.8 328.3,620.1 336.9,629.6 345.5,626.3 354.1,634.7 362.7,638.4 371.4,650.1 380.0,637.3 388.6,631.8 397.2,633.3 405.8,634.0 414.5,639.5 423.1,630.2 431.7,595.9 440.3,623.0 448.9,619.2 457.6,632.5 466.2,625.2 474.8,626.7 483.4,598.1 492.0,589.9 500.7,592.8 509.3,591.5 517.9,602.7 526.5,595.0 535.1,601.6 543.8,595.9 552.4,589.9 561.0,621.9 569.6,622.5 578.2,617.5 586.9,621.4 595.5,623.2 604.1,616.4 612.7,620.3 621.3,632.5 630.0,637.7 638.6,636.9 647.2,635.8 655.8,634.0 664.4,629.8 673.1,639.1 681.7,652.3 690.3,648.3 698.9,653.8 707.5,674.8 716.2,655.4 724.8,657.6 733.4,656.0 742.0,662.2 750.6,654.9 759.3,647.2 767.9,639.1 776.5,632.5 785.1,638.4 793.7,626.3 802.4,624.1 811.0,621.4 819.6,634.0 828.2,643.9 836.8,630.7 845.5,634.7 854.1,634.0 862.7,619.2 871.3,635.1 879.9,628.0 888.6,623.0 897.2,635.5 905.8,633.6 914.4,628.9" fill="none" stroke="#111" stroke-width="1.3" stroke-linejoin="round"/>
<line x1="0" y1="579" x2="1024" y2="579" stroke="#a8a8a8" stroke-width="2"/>
<line x1="0" y1="687.1" x2="1025" y2="687.1" stroke="#a0a0a0" stroke-width="1.4"/>
<line x1="1024.6" y1="84" x2="1024.6" y2="687.5" stroke="#999" stroke-width="1.4"/>
<line x1="1024" y1="112" x2="1028" y2="112" stroke="#9a9a9a" stroke-width="1.2"/>
<line x1="1024" y1="239.8" x2="1028" y2="239.8" stroke="#9a9a9a" stroke-width="1.2"/>
<line x1="1024" y1="303.7" x2="1028" y2="303.7" stroke="#9a9a9a" stroke-width="1.2"/>
<line x1="1024" y1="367.5" x2="1028" y2="367.5" stroke="#9a9a9a" stroke-width="1.2"/>
<line x1="1024" y1="431.4" x2="1028" y2="431.4" stroke="#9a9a9a" stroke-width="1.2"/>
<line x1="1024" y1="495.3" x2="1028" y2="495.3" stroke="#9a9a9a" stroke-width="1.2"/>
<line x1="1024" y1="559" x2="1028" y2="559" stroke="#9a9a9a" stroke-width="1.2"/>
<line x1="1024" y1="601.8" x2="1028" y2="601.8" stroke="#9a9a9a" stroke-width="1.2"/>
<line x1="1024" y1="648.8" x2="1028" y2="648.8" stroke="#9a9a9a" stroke-width="1.2"/>
<line x1="1024" y1="671.6" x2="1028" y2="671.6" stroke="#9a9a9a" stroke-width="1.2"/>
<line x1="186.0" y1="687" x2="186.0" y2="693" stroke="#9a9a9a" stroke-width="1.2"/>
<line x1="410.5" y1="687" x2="410.5" y2="693" stroke="#9a9a9a" stroke-width="1.2"/>
<line x1="625.5" y1="687" x2="625.5" y2="693" stroke="#9a9a9a" stroke-width="1.2"/>
<line x1="850.0" y1="687" x2="850.0" y2="693" stroke="#9a9a9a" stroke-width="1.2"/>
</svg>
<div class="lbl" style="left:4px;top:497px;width:131px;padding:0 4px 0 5px"><b>VWAP</b> 20 1 2 3</div>
<div class="lbl" style="left:140px;top:497px;width:154px;padding:0 4px 0 5px"><b>AUTO TREND</b> 2 2 2</div>
<div class="lbl" style="left:8px;top:590px;width:81px;padding:0 0 0 1px"><b>RSI</b> 14</div><div class="lbl" style="left:95px;top:590px;width:16px"></div>
<svg class="abs" style="left:0;top:0" width="1089" height="712"><path d="M109.23,508.94 L111.06,509.05 L111.06,510.55 L109.23,510.66 L108.39,512.68 L109.61,514.05 L108.55,515.11 L107.18,513.89 L105.16,514.73 L105.05,516.56 L103.55,516.56 L103.44,514.73 L101.42,513.89 L100.05,515.11 L98.99,514.05 L100.21,512.68 L99.37,510.66 L97.54,510.55 L97.54,509.05 L99.37,508.94 L100.21,506.92 L98.99,505.55 L100.05,504.49 L101.42,505.71 L103.44,504.87 L103.55,503.04 L105.05,503.04 L105.16,504.87 L107.18,505.71 L108.55,504.49 L109.61,505.55 L108.39,506.92Z M106.60,509.80 a2.3,2.3 0 1,0 -4.60,0 a2.3,2.3 0 1,0 4.60,0Z" fill="#9a9a9a" fill-rule="evenodd"/><path d="M119.4,504.9 L129.0,514.5 M129.0,504.9 L119.4,514.5" stroke="#9a9a9a" stroke-width="2.6"/><path d="M269.23,508.94 L271.06,509.05 L271.06,510.55 L269.23,510.66 L268.39,512.68 L269.61,514.05 L268.55,515.11 L267.18,513.89 L265.16,514.73 L265.05,516.56 L263.55,516.56 L263.44,514.73 L261.42,513.89 L260.05,515.11 L258.99,514.05 L260.21,512.68 L259.37,510.66 L257.54,510.55 L257.54,509.05 L259.37,508.94 L260.21,506.92 L258.99,505.55 L260.05,504.49 L261.42,505.71 L263.44,504.87 L263.55,503.04 L265.05,503.04 L265.16,504.87 L267.18,505.71 L268.55,504.49 L269.61,505.55 L268.39,506.92Z M266.60,509.80 a2.3,2.3 0 1,0 -4.60,0 a2.3,2.3 0 1,0 4.60,0Z" fill="#9a9a9a" fill-rule="evenodd"/><path d="M279.4,504.9 L289.0,514.5 M289.0,504.9 L279.4,514.5" stroke="#9a9a9a" stroke-width="2.6"/><path d="M62.63,601.64 L64.46,601.75 L64.46,603.25 L62.63,603.36 L61.79,605.38 L63.01,606.75 L61.95,607.81 L60.58,606.59 L58.56,607.43 L58.45,609.26 L56.95,609.26 L56.84,607.43 L54.82,606.59 L53.45,607.81 L52.39,606.75 L53.61,605.38 L52.77,603.36 L50.94,603.25 L50.94,601.75 L52.77,601.64 L53.61,599.62 L52.39,598.25 L53.45,597.19 L54.82,598.41 L56.84,597.57 L56.95,595.74 L58.45,595.74 L58.56,597.57 L60.58,598.41 L61.95,597.19 L63.01,598.25 L61.79,599.62Z M60.00,602.50 a2.3,2.3 0 1,0 -4.60,0 a2.3,2.3 0 1,0 4.60,0Z" fill="#9a9a9a" fill-rule="evenodd"/><path d="M72.7,597.7 L82.3,607.3 M82.3,597.7 L72.7,607.3" stroke="#9a9a9a" stroke-width="2.6"/><path d="M103,610.8 V598.5 M97.5,604 L103,598.3 L108.5,604" fill="none" stroke="#999" stroke-width="1.4"/></svg>
<div class="ax" style="top:104.0px">1.17500</div><div class="ax" style="top:295.7px">1.10000</div><div class="ax" style="top:359.5px">1.07500</div><div class="ax" style="top:423.4px">1.05000</div><div class="ax" style="top:487.3px">1.02500</div><div class="ax" style="top:551.0px">1.00000</div><div class="ax" style="top:230.5px">1.12500</div><div class="ax rs" style="top:593.8px"><b>70</b>.0</div><div class="ax rs" style="top:640.8px">50.0</div><div class="ax rs" style="top:663.6px">40.0</div><div class="tag" style="top:169.5px;height:18.4px;width:55.5px;background:#ff8a1f;color:#222"><i style="border-right-color:#ff8a1f;border-top-width:9.2px;border-bottom-width:9.2px"></i>1.14866</div><div class="tag" style="top:183.3px;height:18.4px;width:63px;background:#6659a9;color:#fff"><i style="border-right-color:#6659a9;border-top-width:9.2px;border-bottom-width:9.2px"></i>1.143430</div><div class="tag" style="top:205.3px;height:18.4px;width:55.5px;background:#36c6c9;color:#111"><i style="border-right-color:#36c6c9;border-top-width:9.2px;border-bottom-width:9.2px"></i>1.13474</div><div class="tag" style="top:241.1px;height:18.4px;width:55.5px;background:#ff8a1f;color:#222"><i style="border-right-color:#ff8a1f;border-top-width:9.2px;border-bottom-width:9.2px"></i>1.12081</div><div class="tag" style="top:619.8px;height:18px;width:34px;background:#000;color:#fff"><i style="border-right-color:#000;border-top-width:9.0px;border-bottom-width:9.0px"></i>58.5</div>
<div class="mon" style="left:174px">Mar</div>
<div class="mon" style="left:399px">Apr</div>
<div class="mon" style="left:612px">May</div>
<div class="mon" style="left:838px">Jun</div>
</body></html>
